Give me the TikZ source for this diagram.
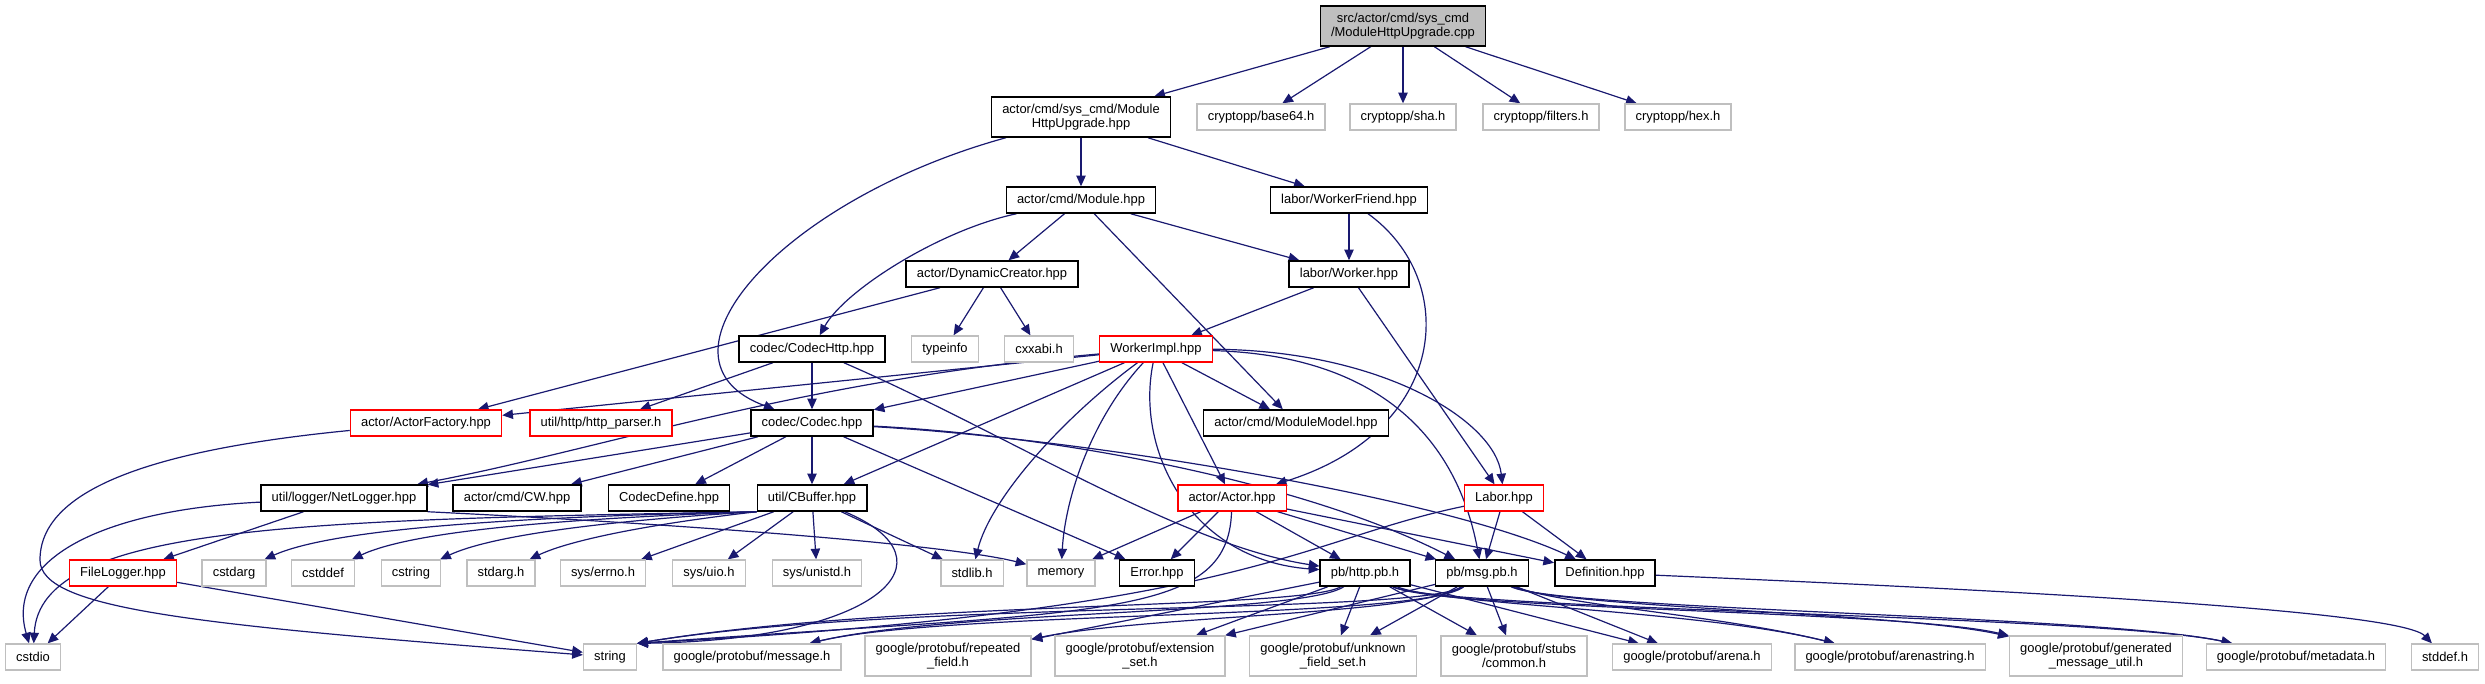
\documentclass[tikz,border=0pt]{standalone}
\usepackage{fontspec}
\setmainfont{Liberation Sans}
\usetikzlibrary{arrows.meta, backgrounds}
\definecolor{cedge}{HTML}{191970}
\definecolor{cred}{HTML}{FF0000}
\definecolor{cgrey}{HTML}{BFBFBF}
\tikzset{
  every picture/.style={font=\fontsize{9.7}{10.5}\selectfont, line width=0.9pt},
  hdr/.style={draw=#1, fill=white, line width=1.1pt, inner xsep=8pt, inner ysep=1pt, minimum height=19.5pt, align=center},
  hdr/.default=black,
  ext/.style={hdr=cgrey, line width=1pt},
  bad/.style={hdr=cred, line width=1pt},
  tall/.style={minimum height=30pt},
  inc/.style={-{Triangle[length=8pt, width=7pt]}, draw=cedge, line width=0.9pt},
}

\begin{document}
\begin{tikzpicture}[x=0.75pt, y=-0.75pt]
  \useasboundingbox (0,0) rectangle (2485,683);
  % root and first level
  \node[hdr, fill=cgrey, tall] (root) at (1403,26) {src/actor/cmd/sys\_cmd\\/ModuleHttpUpgrade.cpp};
  \node[hdr, tall] (mhu) at (1081,117) {actor/cmd/sys\_cmd/Module\\HttpUpgrade.hpp};
  \node[ext] (b64)  at (1261,117) {cryptopp/base64.h};
  \node[ext] (sha)  at (1403,117) {cryptopp/sha.h};
  \node[ext] (filt) at (1541,117) {cryptopp/filters.h};
  \node[ext] (hex)  at (1678,117) {cryptopp/hex.h};
  % module and worker
  \node[hdr] (mod) at (1081,200) {actor/cmd/Module.hpp};
  \node[hdr] (wfr) at (1349,200) {labor/WorkerFriend.hpp};
  \node[hdr] (dyn) at (992,274) {actor/DynamicCreator.hpp};
  \node[hdr] (wrk) at (1349,274) {labor/Worker.hpp};
  \node[hdr] (chttp) at (812,349) {codec/CodecHttp.hpp};
  \node[ext] (tinfo) at (945,349) {typeinfo};
  \node[ext] (cxx)   at (1039,349) {cxxabi.h};
  \node[bad] (wimpl) at (1156,349) {WorkerImpl.hpp};
  \node[bad] (afac)   at (426,423) {actor/ActorFactory.hpp};
  \node[bad] (hparse) at (601,423) {util/http/http\_parser.h};
  \node[hdr] (codec)  at (812,423) {codec/Codec.hpp};
  \node[hdr] (mmodel) at (1296,423) {actor/cmd/ModuleModel.hpp};
  % codec and actor layer
  \node[hdr] (netlog) at (344,498) {util/logger/NetLogger.hpp};
  \node[hdr] (cw)     at (517,498) {actor/cmd/CW.hpp};
  \node[hdr] (cdef)   at (669,498) {CodecDefine.hpp};
  \node[hdr] (cbuf)   at (812,498) {util/CBuffer.hpp};
  \node[bad] (actor)  at (1232,498) {actor/Actor.hpp};
  \node[bad] (labor)  at (1504,498) {Labor.hpp};
  % system headers and generated files
  \node[bad] (flog) at (123,573) {FileLogger.hpp};
  \foreach \n/\x in {cstdarg/234, cstddef/323, cstring/411} {
    \node[ext] (\n) at (\x,573) {\n};
  }
  \node[ext] (stdargh) at (501,573) {stdarg.h};
  \node[ext] (errno)   at (603,573) {sys/errno.h};
  \node[ext] (uio)     at (709,573) {sys/uio.h};
  \node[ext] (unistd)  at (817,573) {sys/unistd.h};
  \node[ext] (stdlib)  at (972,573) {stdlib.h};
  \node[ext] (memory)  at (1061,573) {memory};
  \node[hdr] (error)   at (1157,573) {Error.hpp};
  \node[hdr] (httppb)  at (1365,573) {pb/http.pb.h};
  \node[hdr] (msgpb)   at (1482,573) {pb/msg.pb.h};
  \node[hdr] (defn)    at (1605,573) {Definition.hpp};
  % bottom row
  \node[ext] (cstdio) at (33,657) {cstdio};
  \node[ext] (string) at (610,657) {string};
  \node[ext] (gpmsg)  at (752,657) {google/protobuf/message.h};
  \node[ext, tall] (grep)  at (948,656) {google/protobuf/repeated\\\_field.h};
  \node[ext, tall] (gext)  at (1140,656) {google/protobuf/extension\\\_set.h};
  \node[ext, tall] (gunk)  at (1333,656) {google/protobuf/unknown\\\_field\_set.h};
  \node[ext, tall] (gcom)  at (1514,656) {google/protobuf/stubs\\/common.h};
  \node[ext] (garena) at (1692,657) {google/protobuf/arena.h};
  \node[ext] (gastr)  at (1890,657) {google/protobuf/arenastring.h};
  \node[ext, tall] (ggen) at (2096,656) {google/protobuf/generated\\\_message\_util.h};
  \node[ext] (gmeta)  at (2296,657) {google/protobuf/metadata.h};
  \node[ext] (stddef) at (2445,657) {stddef.h};

  \begin{scope}[on background layer]
    % top of the graph
    \foreach \t in {mhu, b64, sha, filt, hex} \draw[inc] (root) -- (\t);
    \draw[inc] (mhu) -- (mod);
    \draw[inc] (mhu) -- (wfr);
    \draw[inc] (mhu) .. controls (780,200) and (640,360) .. (codec);
    \draw[inc] (mod) .. controls (940,230) and (845,290) .. (chttp);
    \foreach \t in {dyn, mmodel, wrk} \draw[inc] (mod) -- (\t);
    \draw[inc] (wfr) -- (wrk);
    \draw[inc] (wfr) .. controls (1460,280) and (1450,430) .. (actor);
    \foreach \t in {afac, tinfo, cxx} \draw[inc] (dyn) -- (\t);
    \foreach \t in {wimpl, labor} \draw[inc] (wrk) -- (\t);
    \foreach \t in {hparse, codec} \draw[inc] (chttp) -- (\t);
    \draw[inc] (chttp) .. controls (1000,430) and (1180,545) .. (httppb);
    % WorkerImpl.hpp
    \foreach \t in {afac, codec, cbuf, actor, mmodel} \draw[inc] (wimpl) -- (\t);
    \draw[inc] (wimpl) .. controls (800,380) and (600,450) .. (netlog);
    \draw[inc] (wimpl) .. controls (1060,420) and (990,500) .. (stdlib);
    \draw[inc] (wimpl) .. controls (1090,420) and (1065,500) .. (memory);
    \draw[inc] (wimpl) .. controls (1135,450) and (1190,560) .. (httppb);
    \draw[inc] (wimpl) .. controls (1370,355) and (1455,430) .. (msgpb);
    \draw[inc] (wimpl) .. controls (1380,350) and (1495,420) .. (labor);
    % codec/Codec.hpp
    \foreach \t in {netlog, cw, cdef, cbuf, error} \draw[inc] (codec) -- (\t);
    \draw[inc] (codec) .. controls (1050,435) and (1300,480) .. (msgpb);
    \draw[inc] (codec) .. controls (1100,440) and (1450,500) .. (defn);
    % loggers
    \draw[inc] (netlog) -- (flog);
    \draw[inc] (netlog.south east) .. controls (700,525) and (950,545) .. (memory);
    \draw[inc] (netlog) .. controls (100,510) and (5,560) .. (cstdio);
    \draw[inc] (flog) -- (cstdio);
    \draw[inc] (flog) -- (string);
    \draw[inc] (afac) .. controls (150,450) and (40,490) .. (40,560)
                      .. controls (40,610) and (200,625) .. (string);
    % util/CBuffer.hpp
    \draw[inc] (cbuf.south west) .. controls (300,520) and (40,525) .. (cstdio);
    \draw[inc] (cbuf.south west) .. controls (500,517) and (330,530) .. (cstdarg);
    \draw[inc] (cbuf.south west) .. controls (550,519) and (410,532) .. (cstddef);
    \draw[inc] (cbuf.south west) .. controls (600,521) and (490,536) .. (cstring);
    \draw[inc] (cbuf.south west) .. controls (650,524) and (570,540) .. (stdargh);
    \foreach \t in {errno, uio, unistd, stdlib} \draw[inc] (cbuf) -- (\t);
    \draw[inc] (cbuf) .. controls (960,560) and (880,640) .. (string.north east);
    % actor/Actor.hpp and Labor.hpp
    \foreach \t in {memory, error, httppb, msgpb, defn} \draw[inc] (actor) -- (\t);
    \draw[inc] (actor) .. controls (1228,620) and (1100,610) .. (string.north east);
    \foreach \t in {msgpb, defn} \draw[inc] (labor) -- (\t);
    \draw[inc] (labor) .. controls (1300,540) and (1250,610) .. (string.north east);
    % generated protobuf headers
    \foreach \t in {grep, gext, gunk, gcom, garena} \draw[inc] (httppb) -- (\t);
    \draw[inc] (httppb) .. controls (1300,610) and (900,600) .. (string.north east);
    \draw[inc] (httppb) .. controls (1300,615) and (950,610) .. (gpmsg);
    \draw[inc] (httppb) .. controls (1440,605) and (1700,610) .. (gastr);
    \draw[inc] (httppb) .. controls (1440,610) and (1900,610) .. (ggen);
    \draw[inc] (httppb) .. controls (1440,610) and (2100,615) .. (gmeta);
    \foreach \t in {gext, gunk, gcom, garena} \draw[inc] (msgpb) -- (\t);
    \draw[inc] (msgpb) .. controls (1420,615) and (900,600) .. (string.north east);
    \draw[inc] (msgpb) .. controls (1420,620) and (950,610) .. (gpmsg);
    \draw[inc] (msgpb) .. controls (1420,615) and (1150,615) .. (grep);
    \draw[inc] (msgpb) .. controls (1560,605) and (1720,615) .. (gastr);
    \draw[inc] (msgpb) .. controls (1560,608) and (1900,612) .. (ggen);
    \draw[inc] (msgpb) .. controls (1560,610) and (2100,615) .. (gmeta);
    \draw[inc] (defn) .. controls (2000,590) and (2400,610) .. (stddef);
  \end{scope}
\end{tikzpicture}
\end{document}
